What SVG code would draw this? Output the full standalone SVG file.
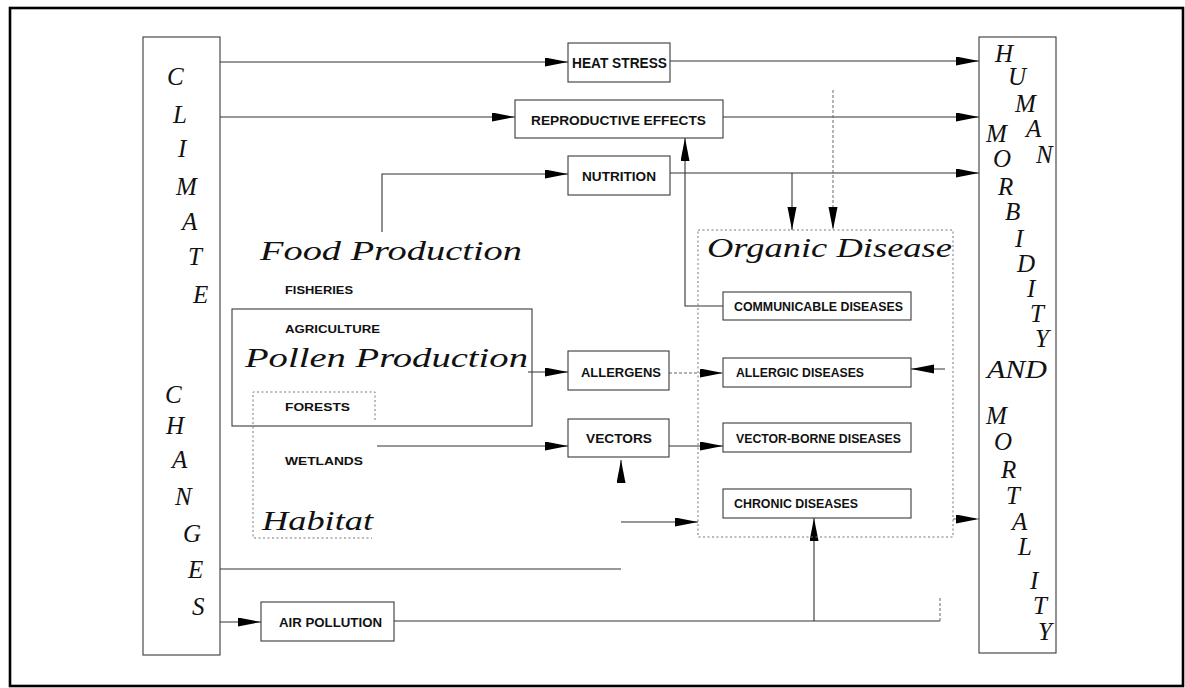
<svg xmlns="http://www.w3.org/2000/svg" width="1185" height="688" viewBox="0 0 1185 688">
<style>
.frame{fill:none;stroke:#000;stroke-width:2.6}
.box{fill:none;stroke:#3a3a3a;stroke-width:1.1}
.dot{fill:none;stroke:#777;stroke-width:1;stroke-dasharray:2 2.5}
.ln{fill:none;stroke:#333;stroke-width:1.1}
.lnd{fill:none;stroke:#666;stroke-width:1;stroke-dasharray:3 2}
.arr{marker-end:url(#ah)}
.lb{font-family:"Liberation Sans",Arial,sans-serif;font-weight:bold;fill:#111}
.it{font-family:"Liberation Serif","Times New Roman",serif;font-style:italic;fill:#111;font-size:27px}
.vl{font-family:"Liberation Serif","Times New Roman",serif;font-style:italic;fill:#111;font-size:25px}
</style>
<defs>
<marker id="ah" markerUnits="userSpaceOnUse" markerWidth="24" markerHeight="10" refX="23" refY="4.5" orient="auto">
<path d="M0,0 L23,4.5 L0,9 z" fill="#000"/>
</marker>
</defs>
<rect x="0" y="0" width="1185" height="688" fill="#fff"/>
<rect class="frame" x="10" y="8" width="1173" height="678"/>

<g id="connectors">
<path class="ln arr" d="M220,62 H568"/>
<path class="ln arr" d="M220,117 H515"/>
<path class="ln arr" d="M382,232 V174 H568"/>
<path class="ln arr" d="M670,61 H979"/>
<path class="ln arr" d="M723,117 H979"/>
<path class="ln arr" d="M670,173 H979"/>
<path class="ln arr" d="M792,173 V230"/>
<path class="lnd arr" d="M833,90 V230"/>
<path class="ln arr" d="M723,306 H685 V138"/>
<path class="ln arr" d="M528,372 H568"/>
<path class="lnd arr" d="M669,373 H723"/>
<path class="ln arr" d="M945,369 H911"/>
<path class="ln arr" d="M377,446 H568"/>
<path class="ln arr" d="M669,446 H723"/>
<path class="ln arr" d="M621,481 V460"/>
<path class="ln arr" d="M621,522 H698"/>
<path class="lnd arr" d="M953,519 H979"/>
<path class="ln" d="M220,569 H621"/>
<path class="ln arr" d="M220,622 H261"/>
<path class="ln" d="M394,621 H940"/>
<path class="lnd" d="M940,621 V597"/>
<path class="ln arr" d="M814,621 V518"/>
</g>

<g id="climate-changes">
<rect class="box" x="143" y="37" width="77" height="618"/>
<text class="vl" x="167" y="85">C</text>
<text class="vl" x="173" y="123">L</text>
<text class="vl" x="178" y="157">I</text>
<text class="vl" x="176" y="195">M</text>
<text class="vl" x="182" y="230">A</text>
<text class="vl" x="188" y="265">T</text>
<text class="vl" x="193" y="303">E</text>
<text class="vl" x="165" y="403">C</text>
<text class="vl" x="166" y="434">H</text>
<text class="vl" x="172" y="468">A</text>
<text class="vl" x="175" y="505">N</text>
<text class="vl" x="183" y="542">G</text>
<text class="vl" x="188" y="578">E</text>
<text class="vl" x="192" y="615">S</text>
</g>

<g id="human-morbidity-mortality">
<rect class="box" x="979" y="37" width="77" height="616"/>
<text class="vl" x="995" y="62">H</text>
<text class="vl" x="1008" y="85">U</text>
<text class="vl" x="1015" y="112">M</text>
<text class="vl" x="1026" y="137">A</text>
<text class="vl" x="1036" y="163">N</text>
<text class="vl" x="986" y="142">M</text>
<text class="vl" x="993" y="167">O</text>
<text class="vl" x="998" y="195">R</text>
<text class="vl" x="1005" y="220">B</text>
<text class="vl" x="1015" y="247">I</text>
<text class="vl" x="1017" y="272">D</text>
<text class="vl" x="1027" y="297">I</text>
<text class="vl" x="1030" y="322">T</text>
<text class="vl" x="1035" y="347">Y</text>
<text class="vl" x="987" y="378" textLength="60" lengthAdjust="spacingAndGlyphs">AND</text>
<text class="vl" x="986" y="424">M</text>
<text class="vl" x="994" y="450">O</text>
<text class="vl" x="1001" y="478">R</text>
<text class="vl" x="1006" y="504">T</text>
<text class="vl" x="1012" y="530">A</text>
<text class="vl" x="1018" y="555">L</text>
<text class="vl" x="1030" y="589">I</text>
<text class="vl" x="1033" y="614">T</text>
<text class="vl" x="1038" y="640">Y</text>
</g>

<g id="heat-stress">
<rect class="box" x="568" y="43" width="102" height="39"/>
<text class="lb" x="572" y="68" font-size="13.8" textLength="95" lengthAdjust="spacingAndGlyphs">HEAT STRESS</text>
</g>
<g id="reproductive-effects">
<rect class="box" x="515" y="100" width="208" height="38"/>
<text class="lb" x="531" y="125" font-size="13.5" textLength="175" lengthAdjust="spacingAndGlyphs">REPRODUCTIVE EFFECTS</text>
</g>
<g id="nutrition">
<rect class="box" x="568" y="156" width="102" height="39"/>
<text class="lb" x="582" y="181" font-size="13.6" textLength="74" lengthAdjust="spacingAndGlyphs">NUTRITION</text>
</g>
<g id="food-production">
<text class="it" x="260" y="260" textLength="262" lengthAdjust="spacingAndGlyphs">Food Production</text>
</g>
<g id="organic-disease">
<rect class="dot" x="698" y="230" width="255" height="307"/>
<text class="it" x="707" y="257" textLength="245" lengthAdjust="spacingAndGlyphs">Organic Disease</text>
</g>
<g id="communicable-diseases">
<rect class="box" x="723" y="292" width="188" height="28"/>
<text class="lb" x="734" y="311" font-size="12.4" textLength="169" lengthAdjust="spacingAndGlyphs">COMMUNICABLE DISEASES</text>
</g>
<g id="allergic-diseases">
<rect class="box" x="723" y="358" width="188" height="29"/>
<text class="lb" x="736" y="377" font-size="12.4" textLength="128" lengthAdjust="spacingAndGlyphs">ALLERGIC DISEASES</text>
</g>
<g id="vector-borne-diseases">
<rect class="box" x="723" y="423" width="188" height="29"/>
<text class="lb" x="736" y="443" font-size="12.4" textLength="165" lengthAdjust="spacingAndGlyphs">VECTOR-BORNE DISEASES</text>
</g>
<g id="chronic-diseases">
<rect class="box" x="723" y="489" width="188" height="29"/>
<text class="lb" x="734" y="508" font-size="12.4" textLength="124" lengthAdjust="spacingAndGlyphs">CHRONIC DISEASES</text>
</g>
<g id="allergens">
<rect class="box" x="568" y="351" width="101" height="39"/>
<text class="lb" x="581" y="377" font-size="13.2" textLength="80" lengthAdjust="spacingAndGlyphs">ALLERGENS</text>
</g>
<g id="vectors">
<rect class="box" x="568" y="419" width="101" height="38"/>
<text class="lb" x="586" y="443" font-size="13.6" textLength="66" lengthAdjust="spacingAndGlyphs">VECTORS</text>
</g>
<g id="fisheries">
<text class="lb" x="285" y="294" font-size="11" textLength="68" lengthAdjust="spacingAndGlyphs">FISHERIES</text>
</g>
<g id="pollen-production">
<rect class="box" x="232" y="309" width="300" height="117"/>
<text class="lb" x="285" y="333" font-size="11" textLength="95" lengthAdjust="spacingAndGlyphs">AGRICULTURE</text>
<text class="it" x="245" y="367" textLength="283" lengthAdjust="spacingAndGlyphs">Pollen Production</text>
</g>
<g id="habitat">
<path class="dot" d="M375,420 V392 H253 V538 H372"/>
<text class="lb" x="285" y="411" font-size="11" textLength="65" lengthAdjust="spacingAndGlyphs">FORESTS</text>
<text class="lb" x="285" y="465" font-size="11" textLength="78" lengthAdjust="spacingAndGlyphs">WETLANDS</text>
<text class="it" x="262" y="530" textLength="111" lengthAdjust="spacingAndGlyphs">Habitat</text>
</g>
<g id="air-pollution">
<rect class="box" x="261" y="602" width="133" height="39"/>
<text class="lb" x="279" y="627" font-size="13" textLength="103" lengthAdjust="spacingAndGlyphs">AIR POLLUTION</text>
</g>
</svg>
